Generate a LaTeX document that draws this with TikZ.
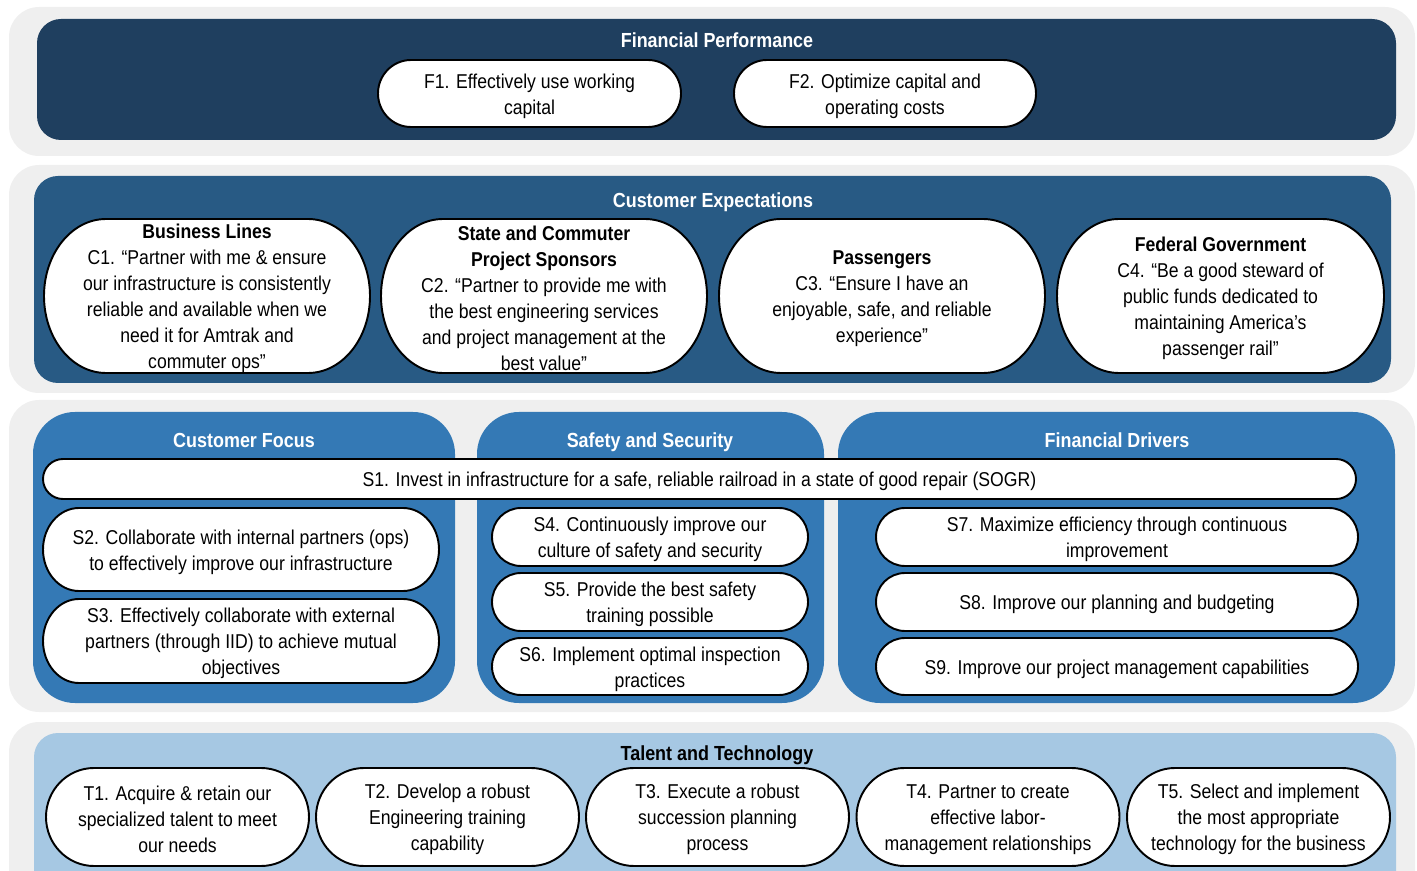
\documentclass[tikz,border=0pt]{standalone}
\usepackage{fontspec}
\setmainfont{Liberation Sans}[FakeStretch=0.88]
\usepackage{tikz}
\usetikzlibrary{positioning}

\definecolor{greyband}{HTML}{EFEFEF}
\definecolor{navyA}{HTML}{1F3F5F}
\definecolor{navyB}{HTML}{285A84}
\definecolor{blueC}{HTML}{3479B5}
\definecolor{lightD}{HTML}{A6C8E3}

\newcommand{\pxl}{0.02cm}

% white capsule: [end radius]{name}{x}{y}{width}{height}{text}
\newcommand{\capsule}[7][30]{%
  \filldraw[capline] (#3-#5/2+#1,#4-#6/2) -- (#3+#5/2-#1,#4-#6/2)
    arc[start angle=90,end angle=-90,x radius=#1*\pxl,y radius=#6/2*\pxl]
    -- (#3-#5/2+#1,#4+#6/2)
    arc[start angle=270,end angle=90,x radius=#1*\pxl,y radius=#6/2*\pxl] -- cycle;
  \node[captext] (#2) at (#3,#4) {#7};%
}

\begin{document}
\begin{tikzpicture}[x=\pxl,y=-\pxl,
  band/.style={fill=greyband,rounded corners=0.6cm,inner sep=0pt},
  panel/.style={rounded corners=0.48cm,inner sep=0pt},
  col/.style={rounded corners=0.84cm,inner sep=0pt,fill=blueC},
  capline/.style={fill=white,draw=black,line width=1.1pt},
  captext/.style={align=center,inner sep=0pt,yshift=-0.05cm,font=\fontsize{11.4}{14.8}\selectfont},
  title/.style={inner sep=0pt,yshift=-0.06cm,text height=0.72em,text depth=0.22em,text=white,font=\fontsize{11.6}{14}\selectfont\bfseries}]

\useasboundingbox (0,0) rectangle (1417,871);

\clip (0,0) rectangle (1417,871);



% grey bands

\node(band1)[band,minimum width=1406*\pxl,minimum height=149*\pxl] at (712,81.5){};

\node(band2)[band,minimum width=1406*\pxl,minimum height=228*\pxl] at (712,279){};

\node(band3)[band,minimum width=1406*\pxl,minimum height=312*\pxl] at (712,556){};

\node(band4)[band,minimum width=1406*\pxl,minimum height=198*\pxl] at (712,821){};



% Financial Performance

\node(fp)[panel,fill=navyA,minimum width=1359*\pxl,minimum height=121*\pxl] at (716.5,79.5){};

\node(fptitle)[title] at (717,40){Financial Performance};

\capsule[33]{f1}{529.5}{93.5}{303}{67}{F1. Effectively use working\\capital}

\capsule[33]{f2}{885}{93.5}{302}{67}{F2. Optimize capital and\\operating costs}



% Customer Expectations

\node(ce)[panel,fill=navyB,minimum width=1357*\pxl,minimum height=207*\pxl] at (712.5,279.5){};

\node(cetitle)[title] at (713,200){Customer Expectations};

\capsule[62]{c1}{207}{296}{326}{154}{\textbf{Business Lines}\\C1. “Partner with me \& ensure\\our infrastructure is consistently\\reliable and available when we\\need it for Amtrak and\\commuter ops”}

\capsule[62]{c2}{544}{296}{326}{154}{\textbf{State and Commuter}\\\textbf{Project Sponsors}\\C2. “Partner to provide me with\\the best engineering services\\and project management at the\\best value”}

\capsule[62]{c3}{882}{296}{326}{154}{\textbf{Passengers}\\C3. “Ensure I have an\\enjoyable, safe, and reliable\\experience”}

\capsule[62]{c4}{1220.5}{296}{327}{154}{\textbf{Federal Government}\\C4. “Be a good steward of\\public funds dedicated to\\maintaining America’s\\passenger rail”}



% strategy columns

\node(cf)[col,minimum width=422*\pxl,minimum height=291*\pxl] at (244,557.5){};

\node(ss)[col,minimum width=347*\pxl,minimum height=291*\pxl] at (650.5,557.5){};

\node(fd)[col,minimum width=557*\pxl,minimum height=291*\pxl] at (1116.5,557.5){};

\node(cftitle)[title] at (244,440){Customer Focus};

\node(sstitle)[title] at (650,440){Safety and Security};

\node(fdtitle)[title] at (1117,440){Financial Drivers};

\capsule[20]{s1}{699.5}{479}{1313}{40}{S1. Invest in infrastructure for a safe, reliable railroad in a state of good repair (SOGR)}

\capsule[36]{s2}{241}{549.5}{396}{83}{S2. Collaborate with internal partners (ops)\\to effectively improve our infrastructure}

\capsule[36]{s3}{241}{641}{396}{84}{S3. Effectively collaborate with external\\partners (through IID) to achieve mutual\\objectives}

\capsule[29]{s4}{650}{537}{316}{58}{S4. Continuously improve our\\culture of safety and security}

\capsule[29]{s5}{650}{602}{316}{58}{S5. Provide the best safety\\training possible}

\capsule[29]{s6}{650}{666.5}{316}{57}{S6. Implement optimal inspection\\practices}

\capsule[29]{s7}{1117}{537}{482}{58}{S7. Maximize efficiency through continuous\\improvement}

\capsule[29]{s8}{1117}{602}{482}{58}{S8. Improve our planning and budgeting}

\capsule[29]{s9}{1117}{666.5}{482}{57}{S9. Improve our project management capabilities}



% Talent and Technology

\node(tt)[panel,fill=lightD,minimum width=1362*\pxl,minimum height=187*\pxl] at (715,826.5){};

\node(tttitle)[title,text=black] at (717,753){Talent and Technology};

\capsule[48]{t1}{177.5}{817}{263}{98}{T1. Acquire \& retain our\\specialized talent to meet\\our needs}

\capsule[48]{t2}{447.5}{817}{263}{98}{T2. Develop a robust\\Engineering training\\capability}

\capsule[48]{t3}{717.5}{817}{263}{98}{T3. Execute a robust\\succession planning\\process}

\capsule[48]{t4}{988}{817}{263}{98}{T4. Partner to create\\effective labor-\\management relationships}

\capsule[48]{t5}{1258.5}{817}{263}{98}{T5. Select and implement\\the most appropriate\\technology for the business}

\end{tikzpicture}
\end{document}
